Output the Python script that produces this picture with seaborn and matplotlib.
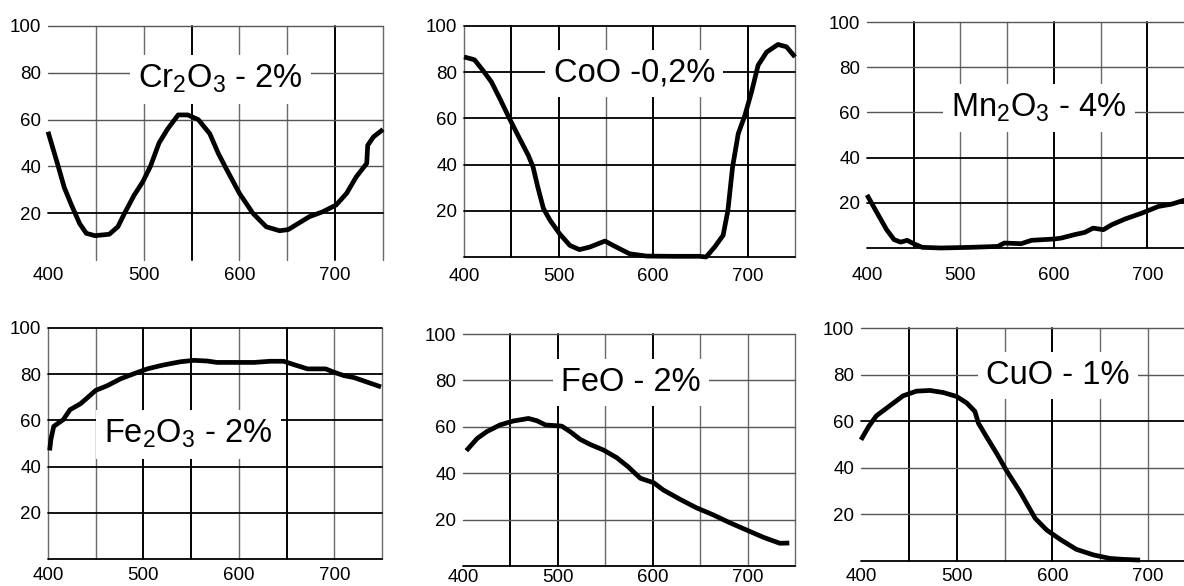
import numpy as np
import pandas as pd
import matplotlib
matplotlib.use("Agg")
import matplotlib.pyplot as plt
import seaborn as sns

sns.set_style("white")
plt.rcParams["font.family"] = ["Liberation Sans", "DejaVu Sans"]
plt.rcParams["mathtext.fontset"] = "custom"
plt.rcParams["mathtext.rm"] = "Liberation Sans"
plt.rcParams["mathtext.it"] = "Liberation Sans"

# transmission curves (wavelength nm, %)
cr_x = [400, 410, 417, 424, 433, 440, 449, 464, 473, 480, 490, 499, 507, 516, 525, 536, 546, 557,
        569, 578, 587, 600, 614, 628, 642, 651, 663, 673, 687, 701, 712, 722, 733, 734, 740, 750]
cr_y = [54.8, 41, 31, 24, 15.6, 11.4, 10.4, 11, 14.2, 20, 27.7, 33.4, 40, 50, 56, 62, 62, 60,
        54, 45.5, 38.4, 28.5, 20, 14.2, 12.5, 13, 16, 18.5, 20.6, 23.5, 28.5, 35.5, 41.3, 49, 52.6, 55.8]

co_x = [400, 411, 420, 429, 438, 448, 457, 468, 473, 478, 484, 491, 501, 512, 522, 533, 549, 561,
        575, 593, 621, 649, 656, 665, 674, 679, 684, 690, 697, 704, 711, 720, 732, 741, 750]
co_y = [86.6, 85.4, 80.8, 75.8, 68.5, 60, 52.7, 44, 39, 30.3, 21, 15.9, 10.1, 5, 3.2, 4.3, 6.9, 4.3,
        1.4, 0.4, 0.3, 0.3, 0, 4.3, 9.4, 20, 39, 53.4, 61.3, 71.4, 83, 88.7, 92, 91, 86.6]

mn_x = [400, 411, 421, 429, 436, 443, 450, 459, 479, 511, 540, 547, 565, 576, 601, 608, 622, 633,
        642, 653, 662, 676, 694, 712, 726, 741]
mn_y = [23.5, 15.4, 8.1, 3.7, 2.6, 3.4, 1.9, 0.3, 0, 0.3, 0.7, 2.2, 1.9, 3.4, 4, 4.4, 5.9, 6.9,
        8.8, 8.1, 10.3, 12.8, 15.4, 18.4, 19.4, 21.3]

fe2_x = [401.7, 403, 406, 411, 416, 423, 434, 441, 450, 462, 476, 490, 504, 521, 539, 553, 567, 577,
         595, 616, 633, 647, 658, 672, 682, 691, 700, 710, 721, 735, 749]
fe2_y = [47, 51.7, 57.4, 58.9, 60.3, 64.6, 67.2, 69.7, 73, 75, 78, 80.2, 82.3, 84, 85.4, 86, 85.7, 85.1,
         85.1, 85.1, 85.6, 85.6, 84.1, 82.3, 82.3, 82.3, 80.8, 79.4, 78.5, 76.5, 74.5]

feo_x = [403.5, 415, 425, 439, 453, 469, 478, 487, 504, 513, 523.5, 534, 548, 562, 574, 587, 601, 611,
         629, 646, 664, 681, 699, 716.5, 734, 744]
feo_y = [49.7, 55, 57.9, 60.8, 62.5, 63.6, 62.6, 60.8, 60.3, 57.9, 54.6, 52.4, 50, 46.7, 42.8, 37.8, 35.9, 32.8,
         28.7, 25.1, 22, 18.7, 15.5, 12.4, 9.8, 9.9]

cu_x = [400, 408, 416, 430, 444, 458, 472, 486, 500, 510.5, 519, 522.6, 531, 542, 552, 566, 582, 594,
        608, 625, 643, 660, 674, 691.6]
cu_y = [52, 57.7, 62.3, 66.6, 70.9, 72.9, 73.2, 72.3, 70.6, 67.8, 64.2, 59.2, 53.4, 46, 38.8, 29.8, 18.3, 13.3,
        9.3, 5, 2.6, 1.1, 0.7, 0.4]

labels = [r"Cr$_2$O$_3$ - 2%", "CoO -0,2%", r"Mn$_2$O$_3$ - 4%",
          r"Fe$_2$O$_3$ - 2%", "FeO - 2%", "CuO - 1%"]
label_pos = [(580, 73.5), (580, 75.8), (584, 58), (547, 50.2), (577, 75.4), (606, 76)]

x_ticks = [400, 500, 600, 700]
y_ticks = [20, 40, 60, 80, 100]
x_grid = [400, 450, 500, 550, 600, 650, 700, 750]
y_grid = [0, 20, 40, 60, 80, 100]

curves = [(cr_x, cr_y), (co_x, co_y), (mn_x, mn_y), (fe2_x, fe2_y), (feo_x, feo_y), (cu_x, cu_y)]

# axes placement in pixels: left, top, right, bottom
W, H = 1184, 586
boxes = [(48, 26, 383, 260), (464, 26, 795, 257), (867, 22, 1194, 248),
         (48, 328, 382, 559), (463, 334, 795, 566), (861, 328, 1196, 561)]
# which frame edges exist, which grid lines are heavy, x label pad
has_left = [False, True, False, True, False, False]
has_bottom = [False, True, True, True, True, True]
bold_x = [[550, 700], [450, 500, 600, 700], [450, 600, 700], [500, 550, 650], [450, 500, 600], [450, 500, 600]]
bold_y = [[20], [0, 20, 40, 60, 80, 100], [0, 20, 40], [0, 20, 40, 60, 80, 100], [0], [0, 60]]
xpad = [5, 8, 14, 6, 2, 5]

fig = plt.figure(figsize=(W / 100, H / 100), dpi=100)

for i, (xs, ys) in enumerate(curves):
    l, t, r, b = boxes[i]
    ax = fig.add_axes([l / W, 1 - b / H, (r - l) / W, (b - t) / H])
    ax.set_xlim(400, 750)
    ax.set_ylim(0, 100)
    for s in ax.spines.values():
        s.set_visible(False)

    for gx in x_grid:
        if gx == 400 and not has_left[i]:
            continue
        heavy = gx in bold_x[i]
        ax.axvline(gx, color="black" if heavy else "#6a6a6a", lw=1.4 if heavy else 1.0,
                   clip_on=False, zorder=1)
    for gy in y_grid:
        if gy == 0 and not has_bottom[i]:
            continue
        heavy = gy in bold_y[i]
        ax.axhline(gy, color="black" if heavy else "#555555", lw=1.3 if heavy else 1.0,
                   clip_on=False, zorder=1)

    df = pd.DataFrame({"nm": xs, "T": ys})
    sns.lineplot(data=df, x="nm", y="T", ax=ax, color="black", lw=3.4, sort=False,
                 solid_capstyle="butt", zorder=4, clip_on=False)

    lx, ly = label_pos[i]
    ax.text(lx, ly, labels[i], ha="center", va="baseline", fontsize=23.5, color="black",
            zorder=3, bbox=dict(boxstyle="square,pad=0.25", fc="white", ec="none"))

    ax.set_xticks(x_ticks)
    ax.set_yticks(y_ticks)
    ax.set_xlabel("")
    ax.set_ylabel("")
    ax.tick_params(length=0, labelsize=13.5, colors="black")
    ax.tick_params(axis="x", pad=xpad[i])
    ax.tick_params(axis="y", pad=5)

fig.savefig("out.png", dpi=100, facecolor="white")
